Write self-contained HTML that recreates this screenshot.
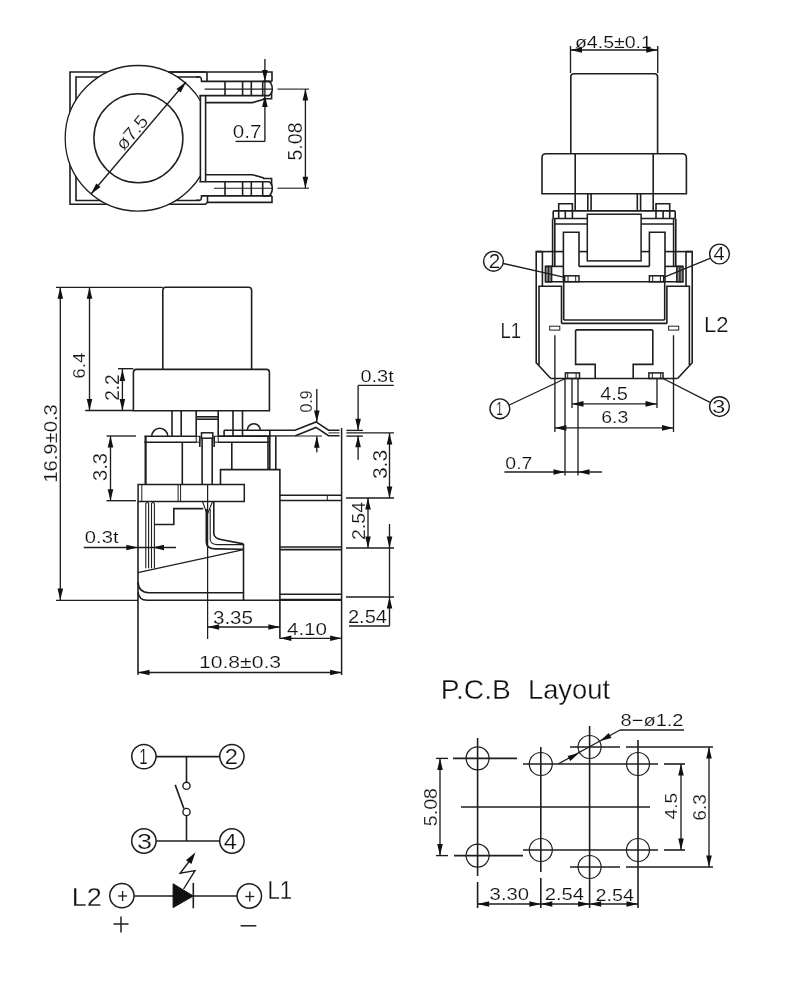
<!DOCTYPE html>
<html><head><meta charset="utf-8"><style>
html,body{margin:0;padding:0;background:#fff;}
svg{display:block;will-change:transform;}
text{font-family:"Liberation Sans",sans-serif;fill:#111;}
</style></head><body>
<svg width="800" height="1000" viewBox="0 0 800 1000" stroke="#1e1e1e" fill="none">
<path d="M206,72 L70,72 L70,204.3 L110,204.3" stroke-width="1.6" fill="none"/>
<path d="M199.6,77 L76,77 L76,200.5 L199.6,200.5" stroke-width="1.6" fill="none"/>
<defs><clipPath id="cl1"><rect x="0" y="0" width="200.5" height="300"/></clipPath></defs>
<g clip-path="url(#cl1)">
<circle cx="138" cy="138.3" r="72.8" stroke-width="1.3" fill="#fff"/>
</g>
<circle cx="138.4" cy="138.3" r="44.5" stroke-width="1.5" fill="none"/>
<line x1="200.4" y1="96" x2="200.4" y2="181" stroke-width="1.6"/>
<line x1="205.6" y1="96" x2="205.6" y2="181" stroke-width="1.6"/>
<path d="M168,72 L272,72 L272,81.4" stroke-width="1.6" fill="none"/>
<line x1="207" y1="72" x2="207" y2="81.6" stroke-width="1.6"/>
<path d="M196,77 L199.6,77 Q201.5,77 201.5,81.4 L272,81.4" stroke-width="1.6" fill="none"/>
<line x1="199.3" y1="95.6" x2="263" y2="95.6" stroke-width="1.6"/>
<line x1="225" y1="81.4" x2="225" y2="95.6" stroke-width="1.6"/>
<line x1="242.6" y1="81.4" x2="242.6" y2="95.6" stroke-width="1.6"/>
<line x1="251.3" y1="81.4" x2="251.3" y2="95.6" stroke-width="1.6"/>
<line x1="262.7" y1="81.4" x2="262.7" y2="95.6" stroke-width="1.6"/>
<path d="M262.7,81.4 L269,81.4 Q272.3,84 272.3,89 Q272.3,93.5 269,95.6 L262.7,95.6" stroke-width="1.6" fill="none"/>
<path d="M271.6,91.5 L271.6,98.8 L263,98.8" stroke-width="1.6" fill="none"/>
<path d="M205.6,102.6 L252.4,102.6 L264,99.3" stroke-width="1.6" fill="none"/>
<line x1="204.6" y1="89.1" x2="272" y2="89.1" stroke-width="1.1"/>
<line x1="277.5" y1="89.1" x2="309" y2="89.1" stroke-width="1.1"/>
<path d="M169,204.3 L205.3,204.3 L207.5,202.4 L272,202.4 L272,195.9" stroke-width="1.6" fill="none"/>
<line x1="207.5" y1="195.6" x2="207.5" y2="202.4" stroke-width="1.6"/>
<path d="M196,200.3 L199.6,200.3 Q201.5,200.3 201.5,195.9 L272,195.9" stroke-width="1.6" fill="none"/>
<line x1="199.3" y1="181.7" x2="263" y2="181.7" stroke-width="1.6"/>
<line x1="225" y1="195.9" x2="225" y2="181.7" stroke-width="1.6"/>
<line x1="242.6" y1="195.9" x2="242.6" y2="181.7" stroke-width="1.6"/>
<line x1="251.3" y1="195.9" x2="251.3" y2="181.7" stroke-width="1.6"/>
<line x1="262.7" y1="195.9" x2="262.7" y2="181.7" stroke-width="1.6"/>
<path d="M262.7,195.9 L269,195.9 Q272.3,193.3 272.3,188.3 Q272.3,183.8 269,181.70000000000002 L262.7,181.70000000000002" stroke-width="1.6" fill="none"/>
<path d="M271.6,185.8 L271.6,178.5 L263,178.5" stroke-width="1.6" fill="none"/>
<path d="M205.6,174.70000000000002 L252.4,174.70000000000002 L264,178.0" stroke-width="1.6" fill="none"/>
<line x1="214" y1="188.2" x2="272" y2="188.2" stroke-width="1.1"/>
<line x1="277.5" y1="188.2" x2="309" y2="188.2" stroke-width="1.1"/>
<line x1="264.9" y1="59" x2="264.9" y2="141.4" stroke-width="1.35"/>
<polygon points="264.90,81.40 262.10,69.90 267.70,69.90" fill="#111" stroke="none"/>
<polygon points="264.90,95.60 267.70,107.10 262.10,107.10" fill="#111" stroke="none"/>
<line x1="235.5" y1="141.4" x2="264.9" y2="141.4" stroke-width="1.35"/>
<line x1="305.4" y1="89" x2="305.4" y2="188.2" stroke-width="1.35"/>
<polygon points="305.40,89.10 308.20,100.60 302.60,100.60" fill="#111" stroke="none"/>
<polygon points="305.40,188.20 302.60,176.70 308.20,176.70" fill="#111" stroke="none"/>
<line x1="91" y1="194" x2="186" y2="82" stroke-width="1.35"/>
<polygon points="186.00,82.00 180.74,92.60 176.46,89.00" fill="#111" stroke="none"/>
<polygon points="91.00,194.00 96.26,183.40 100.54,187.00" fill="#111" stroke="none"/>
<text x="0" y="0" font-size="18.5" text-anchor="middle" textLength="39" lengthAdjust="spacingAndGlyphs" stroke="#fff" stroke-width="0.26" transform="translate(134.5,136) rotate(-49.7) translate(1,2)">ø7.5</text>
<path d="M570.8,153.7 L570.8,76.7 Q570.8,73.7 573.8,73.7 L654.6,73.7 Q657.6,73.7 657.6,76.7 L657.6,153.7" stroke-width="1.6" fill="none"/>
<line x1="570.5" y1="46" x2="570.5" y2="73" stroke-width="1.35"/>
<line x1="657.7" y1="46" x2="657.7" y2="73" stroke-width="1.35"/>
<line x1="570.5" y1="50" x2="657.7" y2="50" stroke-width="1.35"/>
<polygon points="570.50,50.00 582.00,47.20 582.00,52.80" fill="#111" stroke="none"/>
<polygon points="657.70,50.00 646.20,52.80 646.20,47.20" fill="#111" stroke="none"/>
<path d="M542,193.8 L542,157.7 Q542,153.7 546,153.7 L682.4,153.7 Q686.4,153.7 686.4,157.7 L686.4,193.8 Z" stroke-width="1.6" fill="none"/>
<line x1="575.2" y1="153.7" x2="575.2" y2="193.8" stroke-width="1.6"/>
<line x1="653.2" y1="153.7" x2="653.2" y2="193.8" stroke-width="1.6"/>
<line x1="575.2" y1="193.8" x2="575.2" y2="210.9" stroke-width="1.6"/>
<line x1="653.2" y1="193.8" x2="653.2" y2="210.9" stroke-width="1.6"/>
<line x1="587.8" y1="193.8" x2="587.8" y2="210.9" stroke-width="1.6"/>
<line x1="640.6" y1="193.8" x2="640.6" y2="210.9" stroke-width="1.6"/>
<line x1="591.1" y1="193.8" x2="591.1" y2="210.9" stroke-width="1.6"/>
<line x1="637.3" y1="193.8" x2="637.3" y2="210.9" stroke-width="1.6"/>
<path d="M558.7,210.9 L558.7,203.7 L572.4,203.7 L572.4,210.9" stroke-width="1.6" fill="none"/>
<path d="M669.7,210.9 L669.7,203.7 L656,203.7 L656,210.9" stroke-width="1.6" fill="none"/>
<line x1="553.2" y1="210.9" x2="675.2" y2="210.9" stroke-width="1.6"/>
<line x1="553.2" y1="210.9" x2="553.2" y2="218.5" stroke-width="1.6"/>
<line x1="675.2" y1="210.9" x2="675.2" y2="218.5" stroke-width="1.6"/>
<line x1="558.7" y1="210.9" x2="558.7" y2="218.5" stroke-width="1.6"/>
<line x1="669.7" y1="210.9" x2="669.7" y2="218.5" stroke-width="1.6"/>
<line x1="565.3" y1="210.9" x2="565.3" y2="218.5" stroke-width="1.6"/>
<line x1="663.1" y1="210.9" x2="663.1" y2="218.5" stroke-width="1.6"/>
<line x1="572.4" y1="210.9" x2="572.4" y2="218.5" stroke-width="1.6"/>
<line x1="656" y1="210.9" x2="656" y2="218.5" stroke-width="1.6"/>
<line x1="553.2" y1="218.5" x2="587.3" y2="218.5" stroke-width="1.6"/>
<line x1="675.2" y1="218.5" x2="641.1" y2="218.5" stroke-width="1.6"/>
<line x1="554.8" y1="224" x2="587.3" y2="224" stroke-width="1.6"/>
<line x1="673.6" y1="224" x2="641.1" y2="224" stroke-width="1.6"/>
<line x1="552.6" y1="218.5" x2="552.6" y2="266.4" stroke-width="1.6"/>
<line x1="675.8" y1="218.5" x2="675.8" y2="266.4" stroke-width="1.6"/>
<line x1="554.8" y1="218.5" x2="554.8" y2="266.4" stroke-width="1.6"/>
<line x1="673.6" y1="218.5" x2="673.6" y2="266.4" stroke-width="1.6"/>
<rect x="587.3" y="214.2" width="53.8" height="46.7" rx="0" stroke-width="1.5" fill="none"/>
<path d="M563.4,281.7 L563.4,232.3 L579,232.3 L579,266.4" stroke-width="1.6" fill="none"/>
<path d="M665,281.7 L665,232.3 L649.4,232.3 L649.4,266.4" stroke-width="1.6" fill="none"/>
<line x1="579" y1="266.4" x2="649.4" y2="266.4" stroke-width="1.6"/>
<line x1="579" y1="251.6" x2="587.3" y2="251.6" stroke-width="1.6"/>
<line x1="649.4" y1="251.6" x2="641.1" y2="251.6" stroke-width="1.6"/>
<path d="M542.4,251.6 L536.2,251.6 L536.2,362.7 L550.8,378.5" stroke-width="1.6" fill="none"/>
<path d="M686,251.6 L692.2,251.6 L692.2,362.7 L677.6,378.5" stroke-width="1.6" fill="none"/>
<line x1="550.8" y1="378.5" x2="677.6" y2="378.5" stroke-width="1.6"/>
<line x1="542.4" y1="251.6" x2="542.4" y2="286.2" stroke-width="1.6"/>
<line x1="686" y1="251.6" x2="686" y2="286.2" stroke-width="1.6"/>
<line x1="536.7" y1="251.6" x2="563.4" y2="251.6" stroke-width="1.6"/>
<line x1="691.7" y1="251.6" x2="665" y2="251.6" stroke-width="1.6"/>
<rect x="545.4" y="266.4" width="6.2" height="15.4" rx="0" stroke-width="1.5" fill="#8a8a8a"/>
<rect x="676.8" y="266.4" width="6.2" height="15.4" rx="0" stroke-width="1.5" fill="#8a8a8a"/>
<line x1="548.5" y1="266.4" x2="548.5" y2="281.8" stroke-width="1.3"/>
<line x1="679.9" y1="266.4" x2="679.9" y2="281.8" stroke-width="1.3"/>
<line x1="545.7" y1="266.4" x2="563.4" y2="266.4" stroke-width="1.6"/>
<line x1="682.7" y1="266.4" x2="665" y2="266.4" stroke-width="1.6"/>
<line x1="545.7" y1="281.7" x2="682.7" y2="281.7" stroke-width="1.6"/>
<rect x="564.7" y="275.8" width="14.3" height="5.9" rx="0" stroke-width="1.5" fill="none"/>
<rect x="649.4" y="275.8" width="14.3" height="5.9" rx="0" stroke-width="1.5" fill="none"/>
<line x1="568" y1="275.8" x2="568" y2="281.7" stroke-width="1.0"/>
<line x1="660.4" y1="275.8" x2="660.4" y2="281.7" stroke-width="1.0"/>
<line x1="575.7" y1="275.8" x2="575.7" y2="281.7" stroke-width="1.0"/>
<line x1="652.7" y1="275.8" x2="652.7" y2="281.7" stroke-width="1.0"/>
<path d="M539,365 L539,286.2 L561.5,286.2 L561.5,323.4" stroke-width="1.6" fill="none"/>
<path d="M689.4,365 L689.4,286.2 L666.9,286.2 L666.9,323.4" stroke-width="1.6" fill="none"/>
<line x1="561.5" y1="323.4" x2="666.9" y2="323.4" stroke-width="1.6"/>
<line x1="563.7" y1="281.7" x2="563.7" y2="320" stroke-width="1.6"/>
<line x1="664.7" y1="281.7" x2="664.7" y2="320" stroke-width="1.6"/>
<line x1="563.7" y1="320" x2="664.7" y2="320" stroke-width="1.6"/>
<rect x="549.7" y="326.2" width="10.1" height="3.9" rx="0" stroke-width="1.0" fill="none"/>
<rect x="668.6" y="326.2" width="10.1" height="3.9" rx="0" stroke-width="1.0" fill="none"/>
<line x1="554.9" y1="335.2" x2="554.9" y2="432" stroke-width="1.35"/>
<line x1="673.5" y1="335.2" x2="673.5" y2="432" stroke-width="1.35"/>
<path d="M575.6,329.9 L575.6,364.4 L595.2,364.4 L595.2,378.5" stroke-width="1.6" fill="none"/>
<path d="M652.8,329.9 L652.8,364.4 L633.2,364.4 L633.2,378.5" stroke-width="1.6" fill="none"/>
<line x1="575.6" y1="329.9" x2="652.8" y2="329.9" stroke-width="1.6"/>
<rect x="565.4" y="372.9" width="14.1" height="5.6" rx="0" stroke-width="1.5" fill="none"/>
<rect x="648.9" y="372.9" width="14.1" height="5.6" rx="0" stroke-width="1.5" fill="none"/>
<line x1="567.7" y1="372.9" x2="567.7" y2="378.5" stroke-width="1.0"/>
<line x1="660.7" y1="372.9" x2="660.7" y2="378.5" stroke-width="1.0"/>
<line x1="576.1" y1="372.9" x2="576.1" y2="378.5" stroke-width="1.0"/>
<line x1="652.3" y1="372.9" x2="652.3" y2="378.5" stroke-width="1.0"/>
<circle cx="493.5" cy="261.3" r="9.9" stroke-width="1.4" fill="none"/>
<circle cx="719.5" cy="254" r="9.9" stroke-width="1.4" fill="none"/>
<circle cx="499.9" cy="408.8" r="9.9" stroke-width="1.4" fill="none"/>
<circle cx="719.5" cy="406.6" r="9.9" stroke-width="1.4" fill="none"/>
<line x1="503.3" y1="263.5" x2="564.7" y2="277.4" stroke-width="1.35"/>
<line x1="710" y1="258.3" x2="663.7" y2="277.4" stroke-width="1.35"/>
<line x1="509.3" y1="405" x2="565.4" y2="378.5" stroke-width="1.35"/>
<line x1="710" y1="402.3" x2="663" y2="378.5" stroke-width="1.35"/>
<line x1="572" y1="379" x2="572" y2="408" stroke-width="1.35"/>
<line x1="657" y1="379" x2="657" y2="408" stroke-width="1.35"/>
<line x1="572" y1="403.9" x2="657" y2="403.9" stroke-width="1.35"/>
<polygon points="572.00,403.90 583.50,401.10 583.50,406.70" fill="#111" stroke="none"/>
<polygon points="657.00,403.90 645.50,406.70 645.50,401.10" fill="#111" stroke="none"/>
<line x1="554.9" y1="427.9" x2="673.5" y2="427.9" stroke-width="1.35"/>
<polygon points="554.90,427.90 566.40,425.10 566.40,430.70" fill="#111" stroke="none"/>
<polygon points="673.50,427.90 662.00,430.70 662.00,425.10" fill="#111" stroke="none"/>
<line x1="565" y1="379" x2="565" y2="475.4" stroke-width="1.35"/>
<line x1="578" y1="379" x2="578" y2="475.4" stroke-width="1.35"/>
<line x1="504.4" y1="472" x2="601.9" y2="472" stroke-width="1.35"/>
<polygon points="565.00,472.00 553.50,474.80 553.50,469.20" fill="#111" stroke="none"/>
<polygon points="578.00,472.00 589.50,469.20 589.50,474.80" fill="#111" stroke="none"/>
<path d="M162.8,369.4 L162.8,290.3 Q162.8,287.3 165.8,287.3 L248.6,287.3 Q251.6,287.3 251.6,290.3 L251.6,369.4" stroke-width="1.6" fill="none"/>
<path d="M133.4,372.4 Q133.4,369.4 136.4,369.4 L266.4,369.4 Q269.4,369.4 269.4,372.4 L269.4,410.7 L133.4,410.7 Z" stroke-width="1.6" fill="none"/>
<line x1="56" y1="287.3" x2="162.8" y2="287.3" stroke-width="1.35"/>
<line x1="60.3" y1="287.3" x2="60.3" y2="600" stroke-width="1.35"/>
<polygon points="60.30,287.30 63.10,298.80 57.50,298.80" fill="#111" stroke="none"/>
<polygon points="60.30,600.00 57.50,588.50 63.10,588.50" fill="#111" stroke="none"/>
<line x1="89.5" y1="287.3" x2="89.5" y2="410.5" stroke-width="1.35"/>
<polygon points="89.50,287.30 92.30,298.80 86.70,298.80" fill="#111" stroke="none"/>
<polygon points="89.50,410.50 86.70,399.00 92.30,399.00" fill="#111" stroke="none"/>
<line x1="85.2" y1="410.5" x2="133.4" y2="410.5" stroke-width="1.35"/>
<line x1="118" y1="368.7" x2="133.4" y2="368.7" stroke-width="1.35"/>
<line x1="122.4" y1="368.7" x2="122.4" y2="410.5" stroke-width="1.35"/>
<polygon points="122.40,369.40 125.20,380.90 119.60,380.90" fill="#111" stroke="none"/>
<polygon points="122.40,410.50 119.60,399.00 125.20,399.00" fill="#111" stroke="none"/>
<line x1="106.5" y1="436" x2="136" y2="436" stroke-width="1.35"/>
<line x1="106.5" y1="500.7" x2="136" y2="500.7" stroke-width="1.35"/>
<line x1="110.5" y1="436" x2="110.5" y2="500.7" stroke-width="1.35"/>
<polygon points="110.50,436.00 113.30,447.50 107.70,447.50" fill="#111" stroke="none"/>
<polygon points="110.50,500.70 107.70,489.20 113.30,489.20" fill="#111" stroke="none"/>
<line x1="172" y1="410.7" x2="172" y2="436.3" stroke-width="1.6"/>
<line x1="181.2" y1="410.7" x2="181.2" y2="436.3" stroke-width="1.6"/>
<line x1="233" y1="410.7" x2="233" y2="436.3" stroke-width="1.6"/>
<line x1="242.5" y1="410.7" x2="242.5" y2="436.3" stroke-width="1.6"/>
<line x1="196.2" y1="410.7" x2="196.2" y2="436.3" stroke-width="1.6"/>
<line x1="218.2" y1="410.7" x2="218.2" y2="436.3" stroke-width="1.6"/>
<line x1="196.2" y1="416.8" x2="218.2" y2="416.8" stroke-width="1.6"/>
<line x1="196.2" y1="419.2" x2="218.2" y2="419.2" stroke-width="1.6"/>
<path d="M151.75,436.3 A8,8 0 0 1 167.75,436.3" stroke-width="1.6" fill="none"/>
<path d="M247.3,430.2 A6.5,6.5 0 0 1 260.3,430.2" stroke-width="1.6" fill="none"/>
<line x1="144.4" y1="436.3" x2="196.2" y2="436.3" stroke-width="1.6"/>
<line x1="144.4" y1="442.2" x2="196.2" y2="442.2" stroke-width="1.6"/>
<line x1="218.2" y1="436.3" x2="270" y2="436.3" stroke-width="1.6"/>
<line x1="218.2" y1="442.2" x2="269.8" y2="442.2" stroke-width="1.6"/>
<rect x="196.2" y="436.3" width="3.6" height="5.9" rx="#333" stroke-width="1.0" fill="none"/>
<rect x="214.4" y="436.3" width="3.8" height="5.9" rx="#333" stroke-width="1.0" fill="none"/>
<line x1="145.6" y1="436.3" x2="145.6" y2="484.5" stroke-width="2.2"/>
<line x1="182.3" y1="442.2" x2="182.3" y2="484.5" stroke-width="1.6"/>
<rect x="201.5" y="432.8" width="11.3" height="5.4" rx="0" stroke-width="1.5" fill="none"/>
<line x1="202.1" y1="438.2" x2="202.1" y2="484.5" stroke-width="1.6"/>
<line x1="212.2" y1="438.2" x2="212.2" y2="484.5" stroke-width="1.6"/>
<line x1="199.8" y1="436.3" x2="199.8" y2="447" stroke-width="1.6"/>
<line x1="214.2" y1="436.3" x2="214.2" y2="447" stroke-width="1.6"/>
<line x1="224.1" y1="430.2" x2="224.1" y2="436.3" stroke-width="1.6"/>
<path d="M224.1,430.2 L295,430.2 L316,421.9 L328.5,430.2 L339.5,430.2" stroke-width="1.6" fill="none"/>
<path d="M218.2,436.3 L295.5,435.7 L316,427.4 L328.5,435.7 L339.5,435.7" stroke-width="1.6" fill="none"/>
<line x1="295.5" y1="436" x2="322" y2="436" stroke-width="1.0"/>
<line x1="328.5" y1="432.9" x2="339.5" y2="432.9" stroke-width="1.0"/>
<line x1="231.8" y1="442.2" x2="231.8" y2="469.6" stroke-width="1.6"/>
<line x1="268" y1="436.3" x2="268" y2="469.6" stroke-width="1.6"/>
<line x1="269.8" y1="430.2" x2="269.8" y2="469.6" stroke-width="1.6"/>
<line x1="275.8" y1="436.3" x2="275.8" y2="469.6" stroke-width="1.6"/>
<line x1="341.6" y1="428" x2="341.6" y2="675" stroke-width="1.5"/>
<path d="M220.5,484.5 L220.5,469.6 L279.9,469.6 L279.9,638.8" stroke-width="1.6" fill="none"/>
<rect x="138.1" y="484.5" width="106.2" height="17" rx="0" stroke-width="1.5" fill="none"/>
<rect x="178.1" y="484.5" width="2.5" height="17" rx="#333" stroke-width="1.0" fill="none"/>
<line x1="207.6" y1="484.5" x2="207.6" y2="639" stroke-width="1.25"/>
<line x1="141.8" y1="484.5" x2="141.8" y2="501.5" stroke-width="1.0"/>
<line x1="279.9" y1="495.2" x2="341.6" y2="495.2" stroke-width="1.6"/>
<line x1="279.9" y1="500.5" x2="341.6" y2="500.5" stroke-width="1.6"/>
<line x1="327.3" y1="495.2" x2="327.3" y2="500.5" stroke-width="1.0"/>
<line x1="279.9" y1="547" x2="341.6" y2="547" stroke-width="1.6"/>
<line x1="279.9" y1="549.6" x2="341.6" y2="549.6" stroke-width="1.6"/>
<line x1="279.9" y1="594.2" x2="341.6" y2="594.2" stroke-width="1.6"/>
<line x1="279.9" y1="599.6" x2="341.6" y2="599.6" stroke-width="1.6"/>
<line x1="138" y1="501.5" x2="138" y2="674.8" stroke-width="1.6"/>
<path d="M138,592 Q139,600.3 147,600.3 L341.6,600.3" stroke-width="1.6" fill="none"/>
<path d="M138,582 Q138.5,592.7 149,592.7 L243.5,592.7" stroke-width="1.6" fill="none"/>
<path d="M145.8,568.3 L145.8,503.5 Q147.2,501.5 148.6,503.5 L148.6,568.3" stroke-width="1.1" fill="none"/>
<path d="M151.5,568.3 L151.5,503.5 Q153,501.5 154.4,503.5 L154.4,568.3" stroke-width="1.1" fill="none"/>
<path d="M154.4,524.5 L173.8,524.5 L173.8,508.6 L203.2,508.6" stroke-width="1.6" fill="none"/>
<line x1="202.5" y1="501.5" x2="207" y2="513.7" stroke-width="1.1"/>
<line x1="212.6" y1="501.5" x2="207.6" y2="513.7" stroke-width="1.1"/>
<path d="M206.3,509 L206.3,542.4 Q206.8,548.9 215.5,548.9 L243.5,549.3" stroke-width="1.6" fill="none"/>
<path d="M210.2,509 L210.2,539.5 Q210.8,544.6 217.5,544.6 L243.5,544.6" stroke-width="1.1" fill="none"/>
<path d="M213.8,502 L213.8,533.8 Q214.5,538.5 222,539.8 L243.5,543.9" stroke-width="1.6" fill="none"/>
<line x1="137.9" y1="572.6" x2="243.5" y2="549.6" stroke-width="1.25"/>
<line x1="243.5" y1="543.9" x2="243.5" y2="600" stroke-width="1.6"/>
<line x1="83.7" y1="547.5" x2="176" y2="547.5" stroke-width="1.35"/>
<polygon points="137.90,547.50 126.40,550.30 126.40,544.70" fill="#111" stroke="none"/>
<polygon points="152.50,547.50 164.00,544.70 164.00,550.30" fill="#111" stroke="none"/>
<line x1="56" y1="600.3" x2="138" y2="600.3" stroke-width="1.35"/>
<line x1="207.6" y1="627" x2="279.9" y2="627" stroke-width="1.35"/>
<polygon points="207.60,627.00 219.10,624.20 219.10,629.80" fill="#111" stroke="none"/>
<polygon points="279.90,627.00 268.40,629.80 268.40,624.20" fill="#111" stroke="none"/>
<line x1="279.9" y1="638.3" x2="341.6" y2="638.3" stroke-width="1.35"/>
<polygon points="279.90,638.30 291.40,635.50 291.40,641.10" fill="#111" stroke="none"/>
<polygon points="341.60,638.30 330.10,641.10 330.10,635.50" fill="#111" stroke="none"/>
<line x1="138" y1="672.5" x2="341.6" y2="672.5" stroke-width="1.35"/>
<polygon points="138.00,672.50 149.50,669.70 149.50,675.30" fill="#111" stroke="none"/>
<polygon points="341.60,672.50 330.10,675.30 330.10,669.70" fill="#111" stroke="none"/>
<line x1="346.4" y1="430.4" x2="362.9" y2="430.4" stroke-width="1.35"/>
<line x1="346.4" y1="436.1" x2="362.9" y2="436.1" stroke-width="1.35"/>
<line x1="358.1" y1="385.4" x2="358.1" y2="430.2" stroke-width="1.35"/>
<polygon points="358.10,430.20 355.30,418.70 360.90,418.70" fill="#111" stroke="none"/>
<line x1="358.1" y1="435.7" x2="358.1" y2="459.7" stroke-width="1.35"/>
<polygon points="358.10,435.70 360.90,447.20 355.30,447.20" fill="#111" stroke="none"/>
<line x1="358.1" y1="385.4" x2="393.8" y2="385.4" stroke-width="1.35"/>
<line x1="316.8" y1="388.9" x2="316.8" y2="421.9" stroke-width="1.35"/>
<polygon points="316.80,421.90 314.00,410.40 319.60,410.40" fill="#111" stroke="none"/>
<line x1="316.8" y1="436.3" x2="316.8" y2="452.2" stroke-width="1.35"/>
<polygon points="316.80,436.30 319.60,447.80 314.00,447.80" fill="#111" stroke="none"/>
<line x1="346.4" y1="432.9" x2="394" y2="432.9" stroke-width="1.35"/>
<line x1="346" y1="498" x2="394" y2="498" stroke-width="1.35"/>
<line x1="389.5" y1="432.9" x2="389.5" y2="498" stroke-width="1.35"/>
<polygon points="389.50,432.90 392.30,444.40 386.70,444.40" fill="#111" stroke="none"/>
<polygon points="389.50,498.00 386.70,486.50 392.30,486.50" fill="#111" stroke="none"/>
<line x1="368" y1="498" x2="368" y2="548" stroke-width="1.35"/>
<polygon points="368.00,498.00 370.80,509.50 365.20,509.50" fill="#111" stroke="none"/>
<polygon points="368.00,548.00 365.20,536.50 370.80,536.50" fill="#111" stroke="none"/>
<line x1="346" y1="548" x2="394" y2="548" stroke-width="1.35"/>
<line x1="389.5" y1="524" x2="389.5" y2="626" stroke-width="1.35"/>
<polygon points="389.50,548.00 386.70,536.50 392.30,536.50" fill="#111" stroke="none"/>
<polygon points="389.50,597.00 392.30,608.50 386.70,608.50" fill="#111" stroke="none"/>
<line x1="346" y1="597" x2="394" y2="597" stroke-width="1.35"/>
<line x1="349" y1="626" x2="389.5" y2="626" stroke-width="1.35"/>
<circle cx="143.9" cy="756.6" r="12.2" stroke-width="1.5" fill="none"/>
<circle cx="231.9" cy="756.6" r="12.2" stroke-width="1.5" fill="none"/>
<circle cx="143.9" cy="841" r="12.2" stroke-width="1.5" fill="none"/>
<circle cx="231.9" cy="841" r="12.2" stroke-width="1.5" fill="none"/>
<line x1="156.1" y1="756.6" x2="219.7" y2="756.6" stroke-width="1.6"/>
<line x1="156.1" y1="841" x2="219.7" y2="841" stroke-width="1.6"/>
<line x1="186.5" y1="756.6" x2="186.5" y2="782.2" stroke-width="1.6"/>
<circle cx="186.5" cy="785.8" r="3.6" stroke-width="1.4" fill="none"/>
<line x1="175.2" y1="784.9" x2="183.9" y2="808.6" stroke-width="1.6"/>
<circle cx="186.5" cy="812" r="3.6" stroke-width="1.4" fill="none"/>
<line x1="186.5" y1="815.6" x2="186.5" y2="841" stroke-width="1.6"/>
<line x1="134.2" y1="896" x2="237" y2="896" stroke-width="1.6"/>
<polygon points="173.1,883.8 173.1,907.6 193.3,896" fill="#111" stroke="#111" stroke-width="1"/>
<line x1="193.3" y1="882.9" x2="193.3" y2="908.3" stroke-width="1.6"/>
<path d="M183.6,889 L195,870.6 L180.1,873.3 L189.5,861" stroke-width="1.4" fill="none"/>
<polygon points="195.50,852.30 191.40,864.05 185.97,860.31" fill="#111" stroke="none"/>
<circle cx="121.9" cy="895.7" r="12.1" stroke-width="1.5" fill="none"/>
<circle cx="249.3" cy="896" r="12.2" stroke-width="1.5" fill="none"/>
<line x1="118.1" y1="896" x2="127.1" y2="896" stroke-width="1.3"/>
<line x1="122.6" y1="891" x2="122.6" y2="901" stroke-width="1.3"/>
<line x1="245.3" y1="896.5" x2="254.3" y2="896.5" stroke-width="1.3"/>
<line x1="249.8" y1="891.5" x2="249.8" y2="901.5" stroke-width="1.3"/>
<line x1="113.5" y1="924" x2="128.5" y2="924" stroke-width="1.5"/>
<line x1="121" y1="916.5" x2="121" y2="932.5" stroke-width="1.5"/>
<line x1="240.6" y1="925.8" x2="256.3" y2="925.8" stroke-width="1.5"/>
<circle cx="477.6" cy="758.4" r="11.5" stroke-width="1.2" fill="none"/>
<circle cx="477.6" cy="855.6" r="11.5" stroke-width="1.2" fill="none"/>
<circle cx="540.8" cy="764" r="11.5" stroke-width="1.2" fill="none"/>
<circle cx="540.8" cy="850" r="11.5" stroke-width="1.2" fill="none"/>
<circle cx="589.6" cy="747" r="11.5" stroke-width="1.2" fill="none"/>
<circle cx="589.6" cy="867" r="11.5" stroke-width="1.2" fill="none"/>
<circle cx="638" cy="764" r="11.5" stroke-width="1.2" fill="none"/>
<circle cx="638" cy="850" r="11.5" stroke-width="1.2" fill="none"/>
<line x1="461" y1="807" x2="650" y2="807" stroke-width="1.6"/>
<line x1="477.6" y1="738" x2="477.6" y2="876" stroke-width="1.6"/>
<line x1="477.6" y1="882" x2="477.6" y2="908" stroke-width="1.6"/>
<line x1="540.8" y1="747" x2="540.8" y2="872" stroke-width="1.6"/>
<line x1="540.8" y1="878" x2="540.8" y2="908" stroke-width="1.6"/>
<line x1="589.6" y1="726" x2="589.6" y2="908" stroke-width="1.6"/>
<line x1="638" y1="740" x2="638" y2="908" stroke-width="1.6"/>
<line x1="453" y1="758.4" x2="517" y2="758.4" stroke-width="1.6"/>
<line x1="454" y1="855.6" x2="523" y2="855.6" stroke-width="1.6"/>
<line x1="523" y1="764" x2="658" y2="764" stroke-width="1.6"/>
<line x1="664" y1="764" x2="685" y2="764" stroke-width="1.6"/>
<line x1="523" y1="850" x2="658" y2="850" stroke-width="1.6"/>
<line x1="664" y1="850" x2="685" y2="850" stroke-width="1.6"/>
<line x1="570" y1="747" x2="620" y2="747" stroke-width="1.6"/>
<line x1="626" y1="747" x2="713" y2="747" stroke-width="1.6"/>
<line x1="570" y1="867" x2="620" y2="867" stroke-width="1.6"/>
<line x1="626" y1="867" x2="713" y2="867" stroke-width="1.6"/>
<line x1="436" y1="758.4" x2="448" y2="758.4" stroke-width="1.35"/>
<line x1="436" y1="855.6" x2="448" y2="855.6" stroke-width="1.35"/>
<line x1="440" y1="758.4" x2="440" y2="855.6" stroke-width="1.35"/>
<polygon points="440.00,758.40 442.80,769.90 437.20,769.90" fill="#111" stroke="none"/>
<polygon points="440.00,855.60 437.20,844.10 442.80,844.10" fill="#111" stroke="none"/>
<line x1="681" y1="764" x2="681" y2="850" stroke-width="1.35"/>
<polygon points="681.00,764.00 683.80,775.50 678.20,775.50" fill="#111" stroke="none"/>
<polygon points="681.00,850.00 678.20,838.50 683.80,838.50" fill="#111" stroke="none"/>
<line x1="709" y1="747" x2="709" y2="867" stroke-width="1.35"/>
<polygon points="709.00,747.00 711.80,758.50 706.20,758.50" fill="#111" stroke="none"/>
<polygon points="709.00,867.00 706.20,855.50 711.80,855.50" fill="#111" stroke="none"/>
<line x1="477.6" y1="904" x2="638" y2="904" stroke-width="1.35"/>
<polygon points="477.60,904.00 489.10,901.20 489.10,906.80" fill="#111" stroke="none"/>
<polygon points="540.80,904.00 529.30,906.80 529.30,901.20" fill="#111" stroke="none"/>
<polygon points="540.80,904.00 552.30,901.20 552.30,906.80" fill="#111" stroke="none"/>
<polygon points="589.60,904.00 578.10,906.80 578.10,901.20" fill="#111" stroke="none"/>
<polygon points="589.60,904.00 601.10,901.20 601.10,906.80" fill="#111" stroke="none"/>
<polygon points="638.00,904.00 626.50,906.80 626.50,901.20" fill="#111" stroke="none"/>
<line x1="620" y1="730" x2="684" y2="730" stroke-width="1.35"/>
<line x1="620" y1="730" x2="558" y2="764" stroke-width="1.35"/>
<polygon points="600.00,741.00 608.74,733.02 611.43,737.93" fill="#111" stroke="none"/>
<polygon points="579.00,753.00 570.26,760.98 567.57,756.07" fill="#111" stroke="none"/>
<text x="247.09" y="137.82" font-size="18.25" text-anchor="middle" textLength="28.57" lengthAdjust="spacingAndGlyphs" stroke="#fff" stroke-width="0.18">0.7</text>
<text x="301.60" y="141.50" font-size="20.00" text-anchor="middle" textLength="38.09" lengthAdjust="spacingAndGlyphs" stroke="#fff" stroke-width="0.20" transform="rotate(-90 301.60 141.50)">5.08</text>
<text x="613.40" y="47.53" font-size="15.75" text-anchor="middle" textLength="77.05" lengthAdjust="spacingAndGlyphs" stroke="#fff" stroke-width="0.16">ø4.5±0.1</text>
<text x="494.50" y="267.50" font-size="19.58" text-anchor="middle" textLength="11.57" lengthAdjust="spacingAndGlyphs" stroke="#fff" stroke-width="0.20">2</text>
<text x="719.00" y="259.66" font-size="17.55" text-anchor="middle" textLength="11.11" lengthAdjust="spacingAndGlyphs" stroke="#fff" stroke-width="0.18">4</text>
<text x="499.55" y="415.28" font-size="19.10" text-anchor="middle" textLength="6.46" lengthAdjust="spacingAndGlyphs" stroke="#fff" stroke-width="0.19">1</text>
<text x="718.76" y="413.20" font-size="18.88" text-anchor="middle" textLength="13.04" lengthAdjust="spacingAndGlyphs" stroke="#fff" stroke-width="0.19">3</text>
<text x="510.85" y="337.50" font-size="22.75" text-anchor="middle" textLength="20.53" lengthAdjust="spacingAndGlyphs" stroke="#fff" stroke-width="0.23">L1</text>
<text x="716.25" y="331.50" font-size="22.02" text-anchor="middle" textLength="24.56" lengthAdjust="spacingAndGlyphs" stroke="#fff" stroke-width="0.22">L2</text>
<text x="614.08" y="400.30" font-size="17.48" text-anchor="middle" textLength="27.84" lengthAdjust="spacingAndGlyphs" stroke="#fff" stroke-width="0.17">4.5</text>
<text x="614.77" y="423.40" font-size="16.78" text-anchor="middle" textLength="27.08" lengthAdjust="spacingAndGlyphs" stroke="#fff" stroke-width="0.17">6.3</text>
<text x="518.84" y="468.58" font-size="16.78" text-anchor="middle" textLength="27.01" lengthAdjust="spacingAndGlyphs" stroke="#fff" stroke-width="0.17">0.7</text>
<text x="57.26" y="443.45" font-size="18.21" text-anchor="middle" textLength="78.60" lengthAdjust="spacingAndGlyphs" stroke="#fff" stroke-width="0.18" transform="rotate(-90 57.26 443.45)">16.9±0.3</text>
<text x="85.18" y="365.57" font-size="17.23" text-anchor="middle" textLength="26.10" lengthAdjust="spacingAndGlyphs" stroke="#fff" stroke-width="0.17" transform="rotate(-90 85.18 365.57)">6.4</text>
<text x="119.50" y="387.52" font-size="19.58" text-anchor="middle" textLength="26.60" lengthAdjust="spacingAndGlyphs" stroke="#fff" stroke-width="0.20" transform="rotate(-90 119.50 387.52)">2.2</text>
<text x="107.50" y="467.05" font-size="19.58" text-anchor="middle" textLength="27.88" lengthAdjust="spacingAndGlyphs" stroke="#fff" stroke-width="0.20" transform="rotate(-90 107.50 467.05)">3.3</text>
<text x="101.71" y="543.40" font-size="16.78" text-anchor="middle" textLength="33.66" lengthAdjust="spacingAndGlyphs" stroke="#fff" stroke-width="0.17">0.3t</text>
<text x="377.13" y="382.18" font-size="17.23" text-anchor="middle" textLength="33.19" lengthAdjust="spacingAndGlyphs" stroke="#fff" stroke-width="0.17">0.3t</text>
<text x="311.56" y="401.54" font-size="15.97" text-anchor="middle" textLength="22.14" lengthAdjust="spacingAndGlyphs" stroke="#fff" stroke-width="0.16" transform="rotate(-90 311.56 401.54)">0.9</text>
<text x="387.00" y="464.50" font-size="20.00" text-anchor="middle" textLength="29.16" lengthAdjust="spacingAndGlyphs" stroke="#fff" stroke-width="0.20" transform="rotate(-90 387.00 464.50)">3.3</text>
<text x="365.00" y="521.00" font-size="18.57" text-anchor="middle" textLength="38.12" lengthAdjust="spacingAndGlyphs" stroke="#fff" stroke-width="0.19" transform="rotate(-90 365.00 521.00)">2.54</text>
<text x="367.50" y="623.00" font-size="18.57" text-anchor="middle" textLength="39.08" lengthAdjust="spacingAndGlyphs" stroke="#fff" stroke-width="0.19">2.54</text>
<text x="233.00" y="623.64" font-size="18.03" text-anchor="middle" textLength="40.11" lengthAdjust="spacingAndGlyphs" stroke="#fff" stroke-width="0.18">3.35</text>
<text x="307.00" y="635.00" font-size="17.14" text-anchor="middle" textLength="40.08" lengthAdjust="spacingAndGlyphs" stroke="#fff" stroke-width="0.17">4.10</text>
<text x="240.00" y="668.36" font-size="16.91" text-anchor="middle" textLength="82.12" lengthAdjust="spacingAndGlyphs" stroke="#fff" stroke-width="0.17">10.8±0.3</text>
<text x="143.32" y="764.00" font-size="21.43" text-anchor="middle" textLength="8.33" lengthAdjust="spacingAndGlyphs" stroke="#fff" stroke-width="0.21">1</text>
<text x="231.45" y="764.00" font-size="21.43" text-anchor="middle" textLength="13.16" lengthAdjust="spacingAndGlyphs" stroke="#fff" stroke-width="0.21">2</text>
<text x="144.43" y="848.84" font-size="22.95" text-anchor="middle" textLength="15.02" lengthAdjust="spacingAndGlyphs" stroke="#fff" stroke-width="0.23">3</text>
<text x="230.20" y="848.84" font-size="22.95" text-anchor="middle" textLength="13.09" lengthAdjust="spacingAndGlyphs" stroke="#fff" stroke-width="0.23">4</text>
<text x="86.75" y="905.50" font-size="26.64" text-anchor="middle" textLength="30.07" lengthAdjust="spacingAndGlyphs" stroke="#fff" stroke-width="0.27">L2</text>
<text x="279.82" y="899.34" font-size="25.76" text-anchor="middle" textLength="24.75" lengthAdjust="spacingAndGlyphs" stroke="#fff" stroke-width="0.26">L1</text>
<text x="475.82" y="698.85" font-size="27.68" text-anchor="middle" textLength="69.96" lengthAdjust="spacingAndGlyphs" stroke="#fff" stroke-width="0.28">P.C.B</text>
<text x="569.00" y="698.75" font-size="26.79" text-anchor="middle" textLength="82.05" lengthAdjust="spacingAndGlyphs" stroke="#fff" stroke-width="0.27">Layout</text>
<text x="436.62" y="807.10" font-size="18.25" text-anchor="middle" textLength="38.12" lengthAdjust="spacingAndGlyphs" stroke="#fff" stroke-width="0.18" transform="rotate(-90 436.62 807.10)">5.08</text>
<text x="676.84" y="806.12" font-size="15.83" text-anchor="middle" textLength="26.68" lengthAdjust="spacingAndGlyphs" stroke="#fff" stroke-width="0.16" transform="rotate(-90 676.84 806.12)">4.5</text>
<text x="706.20" y="807.32" font-size="18.57" text-anchor="middle" textLength="26.60" lengthAdjust="spacingAndGlyphs" stroke="#fff" stroke-width="0.19" transform="rotate(-90 706.20 807.32)">6.3</text>
<text x="509.39" y="899.66" font-size="15.97" text-anchor="middle" textLength="39.52" lengthAdjust="spacingAndGlyphs" stroke="#fff" stroke-width="0.16">3.30</text>
<text x="564.39" y="899.66" font-size="15.97" text-anchor="middle" textLength="39.40" lengthAdjust="spacingAndGlyphs" stroke="#fff" stroke-width="0.16">2.54</text>
<text x="614.79" y="900.78" font-size="16.08" text-anchor="middle" textLength="38.49" lengthAdjust="spacingAndGlyphs" stroke="#fff" stroke-width="0.16">2.54</text>
<text x="652.04" y="726.36" font-size="16.91" text-anchor="middle" textLength="62.94" lengthAdjust="spacingAndGlyphs" stroke="#fff" stroke-width="0.17">8−ø1.2</text>
</svg></body></html>
